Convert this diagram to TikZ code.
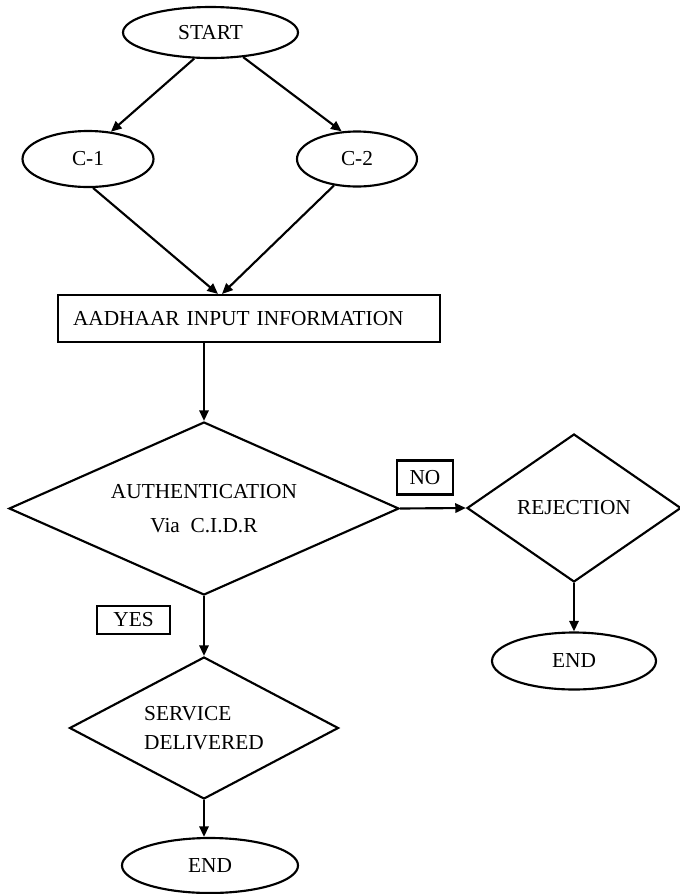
\documentclass[tikz,border=0pt]{standalone}
\usepackage{fontspec}
\setmainfont{Liberation Serif}
\usetikzlibrary{shapes.geometric,arrows.meta}
\newdimen\px \px=0.75pt
\begin{document}
\begin{tikzpicture}[x=0.75pt,y=-0.75pt,
  every node/.style={font=\fontsize{16}{19}\selectfont},
  oval/.style={draw, ellipse, inner sep=0pt, line width=1.6pt},
  dia/.style={draw, diamond, inner sep=0pt, line width=1.6pt},
  box/.style={draw, rectangle, inner sep=0pt, line width=1.6pt},
  arr/.style={line width=1.6pt, -{Triangle[length=8pt,width=7pt]}}]
\useasboundingbox (0,0) rectangle (680,894);

\node[oval, minimum width=175\px, minimum height=51\px] (start) at (210.5,32.5) {START};
\node[oval, minimum width=131\px, minimum height=56\px] (c1) at (88,159) {C-1};
\node[oval, minimum width=120\px, minimum height=55\px] (c2) at (357,159) {C-2};
\node[box, minimum width=382\px, minimum height=47\px, text width=352\px, align=left] (aad) at (249,318.5) {AADHAAR INPUT INFORMATION};
\node[dia, aspect=2.25, minimum width=390\px, minimum height=173\px, align=center, font=\fontsize{16}{26}\selectfont] (auth) at (204,508.5) {AUTHENTICATION\\Via\ \ C.I.D.R};
\node[dia, aspect=1.45, minimum width=214\px, minimum height=148\px] (rej) at (574,508) {REJECTION};
\node[box, minimum width=56\px, minimum height=34\px] (no) at (425,477.5) {NO};
\node[box, minimum width=73\px, minimum height=28\px] (yes) at (133.5,620) {YES};
\node[dia, aspect=1.9, minimum width=269\px, minimum height=142\px, align=left, font=\fontsize{16}{22}\selectfont] (svc) at (204,728) {SERVICE\\DELIVERED};
\node[oval, minimum width=164\px, minimum height=57\px] (endr) at (574,661) {END};
\node[oval, minimum width=176\px, minimum height=55\px] (endb) at (210,865.5) {END};

\draw[arr] (start.-122) -- (c1.50);
\draw[arr] (start.-37) -- (c2.119);
\draw[arr] (c1.-80) -- ([xshift=-31\px]aad.north);
\draw[arr] (c2.-131) -- ([xshift=-27\px]aad.north);
\draw[arr] (aad.south -| auth.north) -- (auth.north);
\draw[arr] (auth.east) -- (rej.west);
\draw[arr] (rej.south) -- (rej.south |- endr.north);
\draw[arr] (auth.south) -- (svc.north);
\draw[arr] (svc.south) -- (svc.south |- endb.north);
\end{tikzpicture}
\end{document}
